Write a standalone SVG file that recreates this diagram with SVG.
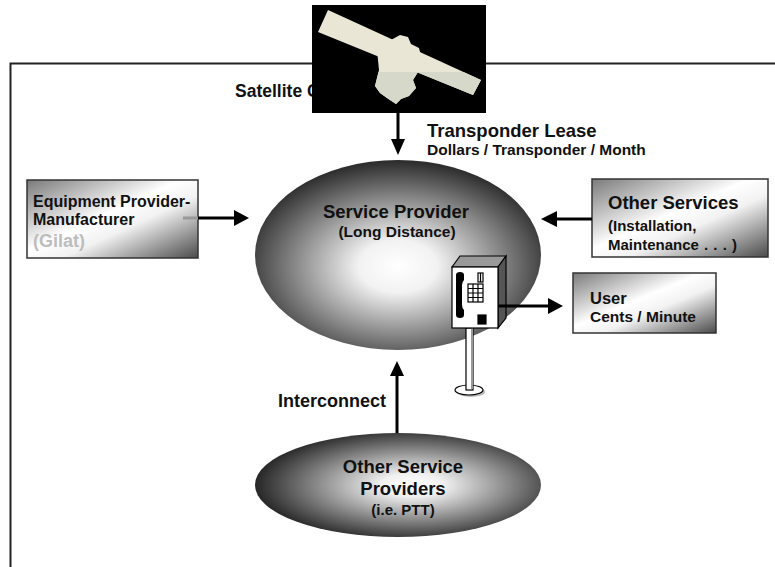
<svg xmlns="http://www.w3.org/2000/svg" width="775" height="567" viewBox="0 0 775 567">
  <style>
    .t { font-family: "Liberation Sans", Arial, sans-serif; font-weight: bold; fill: #111; }
    .box { stroke: #333; stroke-width: 1.5; }
    .conn { stroke: #000; stroke-width: 3; fill: none; }
    .head { fill: #000; }
  </style>
  <defs>
    <radialGradient id="gEllipse" cx="0.5" cy="0.56" r="0.55">
      <stop offset="0" stop-color="#ffffff"/>
      <stop offset="0.25" stop-color="#f2f2f2"/>
      <stop offset="1" stop-color="#2e2e2e"/>
    </radialGradient>
    <radialGradient id="gEllipse2" cx="0.55" cy="0.5" r="0.55">
      <stop offset="0" stop-color="#ffffff"/>
      <stop offset="0.2" stop-color="#f0f0f0"/>
      <stop offset="1" stop-color="#262626"/>
    </radialGradient>
    <linearGradient id="gBox" x1="0" y1="0" x2="1" y2="1">
      <stop offset="0" stop-color="#7a7a7a"/>
      <stop offset="0.45" stop-color="#ffffff"/>
      <stop offset="0.6" stop-color="#f2f2f2"/>
      <stop offset="1" stop-color="#4a4a4a"/>
    </linearGradient>
    <filter id="soft" x="-5%" y="-5%" width="110%" height="110%">
      <feGaussianBlur stdDeviation="0.7"/>
    </filter>
    <clipPath id="lowerBand">
      <rect x="312" y="72" width="174" height="41"/>
    </clipPath>
    <!-- satellite silhouette: solar panel plus bus -->
    <g id="satShape">
      <polygon points="328,10 481,80 473,95 318,32"/>
      <polygon points="377,50 385,45 391,40 400,35 408,37 411,44 419,48 421,56 425,60 421,67 418,72 413,80 416,88 409,96 401,99 396,104 387,98 380,93 375,86 377,78 379,70"/>
    </g>
  </defs>

  <!-- outer frame -->
  <path d="M10.5 567 V63.5 H775" fill="none" stroke="#222" stroke-width="2"/>

  <!-- satellite operator label, partly behind the picture -->
  <text class="t" x="235" y="97" font-size="17.5">Satellite C</text>

  <!-- satellite picture -->
  <g id="satellite">
    <rect x="312" y="5" width="174" height="108" fill="#000"/>
    <g filter="url(#soft)">
      <use href="#satShape" fill="#e9e6d6"/>
      <use href="#satShape" fill="#d6d9ca" clip-path="url(#lowerBand)"/>
    </g>
  </g>

  <!-- main service provider -->
  <g id="service-provider">
    <ellipse cx="398" cy="255" rx="143" ry="95" fill="url(#gEllipse)"/>
    <text class="t" x="396" y="218" font-size="18.5" text-anchor="middle">Service Provider</text>
    <text class="t" x="397" y="237" font-size="15.5" text-anchor="middle">(Long Distance)</text>
  </g>

  <!-- equipment provider -->
  <g id="equipment-provider">
    <rect class="box" x="27" y="180" width="171" height="78" fill="url(#gBox)"/>
    <text class="t" x="33" y="207" font-size="16">Equipment Provider-</text>
    <text class="t" x="33" y="225" font-size="16">Manufacturer</text>
    <text class="t" x="33" y="247" font-size="18" style="fill:#bdbdbd">(Gilat)</text>
  </g>

  <!-- other services -->
  <g id="other-services">
    <rect class="box" x="592" y="179" width="176" height="78" fill="url(#gBox)"/>
    <text class="t" x="608" y="209" font-size="18.5">Other Services</text>
    <text class="t" x="608" y="231" font-size="15">(Installation,</text>
    <text class="t" x="608" y="250" font-size="15" word-spacing="1">Maintenance . . . )</text>
  </g>

  <!-- user -->
  <g id="user">
    <rect class="box" x="573" y="273" width="143" height="60" fill="url(#gBox)"/>
    <text class="t" x="590" y="304" font-size="16.5">User</text>
    <text class="t" x="590" y="322" font-size="15.5">Cents / Minute</text>
  </g>

  <!-- other service providers -->
  <g id="other-providers">
    <ellipse cx="398" cy="485" rx="143" ry="52" fill="url(#gEllipse2)"/>
    <text class="t" x="403" y="473" font-size="18.5" text-anchor="middle">Other Service</text>
    <text class="t" x="403" y="495" font-size="18.5" text-anchor="middle">Providers</text>
    <text class="t" x="403" y="515" font-size="15" text-anchor="middle">(i.e. PTT)</text>
  </g>

  <!-- pay phone -->
  <g id="payphone" stroke="#000" stroke-width="1.2">
    <ellipse cx="471" cy="392" rx="14" ry="5" fill="#bbb" stroke="none"/>
    <ellipse cx="469" cy="390" rx="14" ry="5" fill="#fff"/>
    <rect x="466" y="328" width="7" height="62" fill="#fff"/>
    <rect x="471" y="328" width="2" height="61" fill="#999" stroke="none"/>
    <polygon points="452,267 460,256 506,256 498,267" fill="#999"/>
    <polygon points="498,267 506,256 506,318 498,328" fill="#555"/>
    <rect x="452" y="267" width="46" height="61" fill="#fff"/>
    <path d="M456 275 q0-3 4-3 q4 0 4 3 v5 q-2 2-2 5 v20 q0 3 2 5 v5 q0 3-4 3 q-4 0-4-3 z" fill="#000" stroke="none"/>
    <rect x="478" y="273" width="5" height="9" fill="#fff"/>
    <line x1="480.5" y1="273" x2="480.5" y2="282"/>
    <rect x="468" y="284" width="15" height="18" fill="#fff"/>
    <path d="M473 284 V302 M478 284 V302 M468 288.5 H483 M468 293 H483 M468 297.5 H483" fill="none"/>
    <rect x="478" y="315" width="8" height="9" fill="#000"/>
  </g>

  <!-- connectors -->
  <g id="connectors">
    <line class="conn" x1="398" y1="113" x2="398" y2="140"/>
    <polygon class="head" points="391,139 405,139 398,155"/>

    <line x1="183" y1="218" x2="198" y2="218" stroke="#999" stroke-width="3"/>
    <line class="conn" x1="198" y1="218" x2="236" y2="218"/>
    <polygon class="head" points="234,210 249,218 234,226"/>

    <line class="conn" x1="592" y1="219" x2="555" y2="219"/>
    <polygon class="head" points="557,211 541,219 557,227"/>

    <line class="conn" x1="498" y1="306" x2="550" y2="306"/>
    <polygon class="head" points="548,298 563,306 548,314"/>

    <line class="conn" x1="397" y1="433" x2="397" y2="373"/>
    <polygon class="head" points="390,376 397,361 404,376"/>
  </g>

  <!-- connector labels -->
  <text class="t" x="427" y="137" font-size="18.5">Transponder Lease</text>
  <text class="t" x="427" y="155" font-size="15.5">Dollars / Transponder / Month</text>
  <text class="t" x="278" y="407" font-size="18">Interconnect</text>
</svg>
